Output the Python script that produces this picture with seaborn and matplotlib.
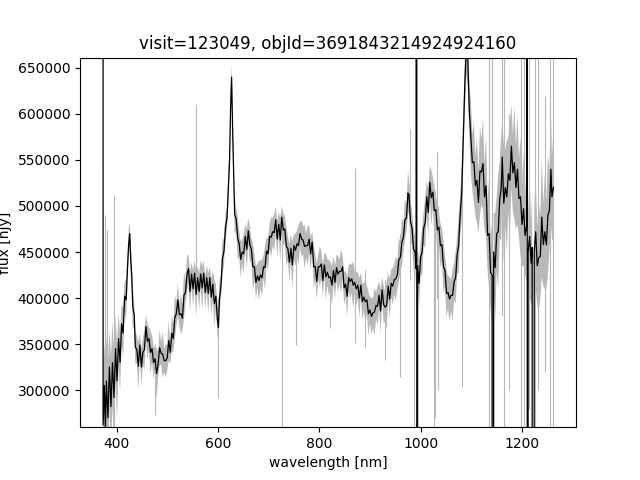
import numpy as np
import matplotlib
matplotlib.use("Agg")
import matplotlib.pyplot as plt
import seaborn as sns

# spectrum (wavelength in nm, flux and error in nJy)
wavelength = [
    372.4, 373.5, 376, 378, 380, 383, 386, 389, 392, 395, 398, 401, 404, 407, 410, 413, 416, 419, 422, 424,
    426, 428, 430, 432, 435, 437, 440, 443, 446, 449, 452, 455, 458, 461, 464, 467, 470, 473, 476, 479,
    482, 485, 488, 491, 494, 497, 500, 503, 506, 509, 512, 515, 518, 521, 524, 527, 530, 533, 536, 539,
    542, 545, 548, 551, 554, 557, 560, 563, 566, 569, 572, 575, 578, 581, 584, 587, 590, 593, 596, 599,
    601, 603, 606, 609, 612, 615, 618, 621, 623, 625, 627, 629, 631, 633, 636, 639, 642, 645, 648, 651,
    654, 657, 660, 663, 666, 669, 672, 675, 678, 681, 684, 687, 690, 693, 696, 699, 702, 705, 708, 711,
    714, 717, 720, 723, 726, 729, 732, 735, 738, 741, 744, 747, 750, 753, 756, 759, 762, 765, 768, 771,
    774, 777, 780, 783, 786, 789, 792, 795, 798, 801, 804, 807, 810, 813, 816, 819, 822, 825, 828, 831,
    834, 837, 840, 843, 846, 849, 852, 855, 858, 861, 864, 867, 870, 873, 876, 879, 882, 885, 888, 891,
    894, 897, 900, 903, 906, 909, 912, 915, 918, 921, 924, 927, 930, 933, 936, 939, 942, 945, 948, 951,
    954, 957, 960, 963, 966, 969, 972, 975, 977, 980, 983, 986, 989, 991, 992, 992.8, 994, 997, 1000, 1003,
    1006, 1009, 1012, 1015, 1018, 1021, 1024, 1027, 1030, 1033, 1036, 1039, 1042, 1045, 1048, 1051, 1054, 1057, 1060, 1063,
    1066, 1069, 1072, 1075, 1078, 1081, 1084, 1087, 1090, 1093, 1096, 1099, 1102, 1105, 1108, 1111, 1114, 1117, 1120, 1123,
    1126, 1129, 1132, 1135, 1138, 1141, 1143, 1144, 1147, 1150, 1153, 1156, 1159, 1161, 1164, 1167, 1170, 1173, 1176, 1179,
    1182, 1185, 1188, 1191, 1194, 1197, 1200, 1203, 1206, 1209, 1210, 1210.6, 1212, 1215, 1218, 1220, 1222, 1224, 1227, 1230,
    1233, 1236, 1239, 1242, 1245, 1248, 1251, 1254, 1257, 1259, 1262,
]
flux = [
    2.0e7, 262000, 305000, 258000, 310000, 270000, 325000, 282000, 330000, 292000, 345000, 310000, 356000, 330000, 372000, 362000, 402000, 398000, 438000, 458000,
    470000, 442000, 425000, 391000, 381000, 347000, 344000, 326000, 349000, 325000, 341000, 344000, 369000, 353000, 356000, 341000, 345000, 330000, 334000, 318000,
    328000, 346000, 340000, 339000, 332000, 332000, 335000, 354000, 341000, 362000, 356000, 379000, 383000, 398000, 382000, 383000, 378000, 403000, 406000, 426000,
    432000, 407000, 426000, 410000, 427000, 404000, 422000, 407000, 426000, 411000, 427000, 406000, 422000, 405000, 422000, 401000, 415000, 394000, 402000, 377000,
    368000, 399000, 413000, 443000, 451000, 477000, 487000, 524000, 550000, 606000, 640000, 584000, 535000, 491000, 486000, 465000, 459000, 442000, 450000, 448000,
    467000, 453000, 473000, 458000, 453000, 434000, 434000, 417000, 424000, 419000, 425000, 422000, 434000, 433000, 451000, 448000, 467000, 466000, 472000, 471000,
    485000, 464000, 480000, 463000, 488000, 474000, 475000, 456000, 454000, 439000, 454000, 436000, 457000, 452000, 459000, 457000, 470000, 464000, 463000, 456000,
    457000, 457000, 464000, 448000, 461000, 434000, 434000, 418000, 434000, 434000, 437000, 419000, 436000, 423000, 428000, 422000, 423000, 414000, 430000, 417000,
    433000, 426000, 429000, 429000, 434000, 411000, 415000, 402000, 422000, 418000, 421000, 414000, 417000, 410000, 414000, 400000, 414000, 396000, 401000, 396000,
    398000, 383000, 387000, 380000, 384000, 385000, 392000, 391000, 403000, 386000, 409000, 393000, 390000, 392000, 413000, 399000, 416000, 413000, 420000, 421000,
    425000, 442000, 444000, 461000, 466000, 485000, 487000, 514000, 512000, 483000, 476000, 453000, 450000, 432000, 2.0e7, -2.0e7, 435000, 416000, 445000, 450000,
    476000, 482000, 510000, 493000, 526000, 509000, 515000, 495000, 496000, 474000, 477000, 457000, 458000, 434000, 430000, 405000, 406000, 399000, 403000, 403000,
    418000, 422000, 447000, 457000, 491000, 514000, 570000, 630000, 672000, 660000, 604000, 576000, 547000, 548000, 522000, 528000, 504000, 538000, 537000, 546000,
    510000, 522000, 468000, 470000, 428000, 425000, -2.0e7, 450000, 433000, 470000, 472000, 507000, 520000, 553000, 503000, 520000, 510000, 535000, 528000, 565000,
    536000, 547000, 520000, 540000, 508000, 510000, 480000, 497000, 468000, 478000, 2.0e7, -2.0e7, 450000, 467000, 438000, 455000, -2.0e7, 450000, 472000, 435000,
    444000, 445000, 488000, 458000, 472000, 458000, 490000, 495000, 540000, 510000, 520000,
]
flux_err = [
    60000, 65000, 45000, 70000, 50000, 60000, 40000, 55000, 45000, 50000, 35000, 40000, 28000, 32000, 22000, 26000, 16000, 22000, 14000, 18000,
    12000, 20000, 14000, 24000, 12000, 18000, 15000, 26000, 12000, 20000, 14000, 22000, 13000, 19000, 12000, 24000, 14000, 18000, 12000, 28000,
    14000, 20000, 12000, 25000, 13000, 18000, 14000, 22000, 12000, 20000, 15000, 24000, 13000, 18000, 12000, 22000, 14000, 26000, 13000, 20000,
    15000, 22000, 13000, 20000, 14000, 26000, 12000, 20000, 15000, 24000, 13000, 18000, 14000, 22000, 12000, 20000, 15000, 26000, 13000, 18000,
    14000, 18000, 13000, 20000, 14000, 16000, 12000, 18000, 14000, 16000, 15000, 20000, 14000, 22000, 12000, 24000, 14000, 20000, 13000, 22000,
    13000, 22000, 14000, 20000, 12000, 26000, 14000, 18000, 13000, 22000, 15000, 20000, 12000, 24000, 14000, 18000, 13000, 22000, 15000, 20000,
    14000, 20000, 13000, 24000, 12000, 18000, 14000, 22000, 13000, 20000, 15000, 26000, 12000, 18000, 14000, 22000, 13000, 20000, 15000, 24000,
    13000, 22000, 14000, 18000, 12000, 24000, 14000, 20000, 13000, 22000, 15000, 18000, 12000, 26000, 14000, 20000, 13000, 22000, 15000, 18000,
    14000, 20000, 13000, 24000, 12000, 18000, 14000, 22000, 13000, 20000, 15000, 26000, 12000, 18000, 14000, 22000, 13000, 20000, 15000, 24000,
    15000, 24000, 14000, 20000, 16000, 26000, 14000, 22000, 15000, 24000, 14000, 20000, 16000, 26000, 14000, 22000, 15000, 20000, 16000, 24000,
    16000, 24000, 15000, 26000, 16000, 22000, 15000, 24000, 18000, 26000, 16000, 24000, 15000, 20000, 18000, 18000, 18000, 26000, 16000, 28000,
    18000, 28000, 17000, 26000, 18000, 30000, 17000, 26000, 18000, 28000, 17000, 24000, 18000, 28000, 17000, 26000, 18000, 24000, 17000, 28000,
    20000, 28000, 20000, 30000, 22000, 30000, 24000, 30000, 30000, 30000, 28000, 40000, 30000, 44000, 32000, 46000, 34000, 48000, 36000, 50000,
    36000, 55000, 38000, 60000, 40000, 55000, 45000, 42000, 60000, 40000, 62000, 42000, 58000, 40000, 65000, 42000, 60000, 40000, 62000, 45000,
    42000, 62000, 45000, 60000, 42000, 65000, 45000, 62000, 42000, 60000, 45000, 45000, 42000, 65000, 45000, 60000, 45000, 45000, 62000, 42000,
    60000, 45000, 65000, 45000, 62000, 48000, 65000, 45000, 60000, 45000, 60000,
]

# isolated pixels with very large errors (drawn as thin spikes)
spike_wl = [377, 381, 395, 475, 556, 600.5, 727, 754, 821, 871, 891, 930, 960, 978, 986, 1026, 1028, 1033, 1035, 1082,
            1134, 1141.6, 1161, 1164, 1175, 1197, 1203, 1213, 1225, 1232, 1245, 1256, 1262]
spike_lo = [250000, 250000, 260000, 273000, 400000, 291000, 250000, 349000, 367000, 351000, 347000, 332600, 314000, 420000, 250000, 250000, 270000, 400000, 300000, 303000,
            250000, 250000, 380000, 250000, 300000, 250000, 250000, 280000, 250000, 300000, 320000, 250000, 250000]
spike_hi = [490000, 474000, 512000, 350000, 611000, 400000, 490000, 470000, 440000, 541600, 430000, 420000, 470000, 584000, 470000, 520000, 500000, 559000, 500000, 560000,
            700000, 700000, 700000, 700000, 600000, 700000, 700000, 700000, 700000, 700000, 620000, 700000, 700000]

wl = np.array(wavelength)
f = np.array(flux)
e = np.array(flux_err)

fig, ax = plt.subplots(figsize=(6.4, 4.8), dpi=100)
ax.fill_between(wl, f - e, f + e, color="0.72", lw=0)
ax.vlines(spike_wl, spike_lo, spike_hi, color="0.72", lw=0.8)
sns.lineplot(x=wl, y=f, color="k", lw=0.9, estimator=None, ax=ax)

ax.set_ylim(259700, 661200)
ax.set_xlabel("wavelength [nm]")
ax.set_ylabel("flux [nJy]")
ax.set_title("visit=123049, objId=3691843214924924160")

plt.savefig("out.png")
